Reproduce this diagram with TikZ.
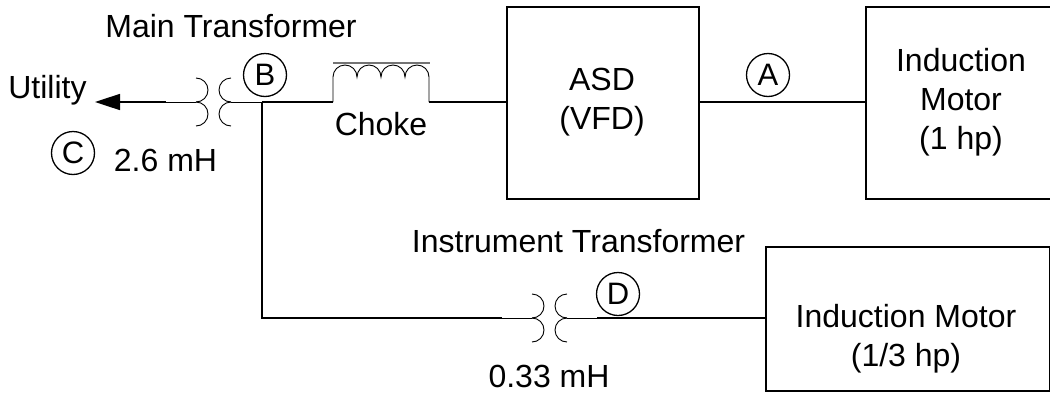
\documentclass[tikz,border=0pt]{standalone}
\usepackage{fontspec}
\usetikzlibrary{arrows.meta}
\setmainfont{Liberation Sans}
\tikzset{
 x=1pt,y=-1pt,
 lbl/.style={font=\fontsize{32}{39}\selectfont,inner sep=0pt,align=center},
 lblb/.style={font=\fontsize{32}{39}\selectfont,inner sep=0pt,anchor=base},
 boxn/.style={draw=black,line width=1.6pt,inner sep=0pt},
 tagc/.style={draw=black,circle,line width=1.3pt,minimum size=43pt,inner sep=0pt,font=\fontsize{31}{34}\selectfont},
 wire/.style={line width=1.6pt},
 thinwire/.style={line width=1pt},
 coil/.style={line width=0.9pt},
}
\begin{document}
\begin{tikzpicture}
\useasboundingbox (0,0) rectangle (1050,394);
\path[clip] (0,0) rectangle (1050,394);
% boxes
\node[boxn,minimum width=192pt,minimum height=192pt,anchor=north west] (asd) at (506,6) {};
\node[lbl] (asdt) at (602,102) {ASD\\(VFD)};
\node[boxn,minimum width=200pt,minimum height=192pt,anchor=north west] (m1) at (865,6) {};
\node[lbl] (m1t) at (961,102) {Induction\\Motor\\(1 hp)};
\node[boxn,minimum width=284pt,minimum height=144pt,anchor=north west] (m2) at (765,246) {};
\node[lbl] (m2t) at (906,338.5) {Induction Motor\\(1/3 hp)};
% tags
\node[tagc] (A) at (768,75) {A};
\node[tagc] (B) at (265,75) {B};
\node[tagc] (C) at (73,153) {C};
\node[tagc] (D) at (618,294) {D};
% labels
\node[lblb] (mt) at (231,37) {Main Transformer};
\node[lblb] (ut) at (47.5,98) {Utility};
\node[lblb] (v26) at (165.5,171) {2.6 mH};
\node[lblb] (ch) at (381,135) {Choke};
\node[lblb] (it) at (578.5,252) {Instrument Transformer};
\node[lblb] (v33) at (549,387) {0.33 mH};
% wiring
\coordinate (tl) at (196,102);
\coordinate (tr) at (231,102);
\coordinate (jn) at (262,102);
\coordinate (cl) at (333,102);
\coordinate (cr) at (429,102);
\coordinate (arr) at (95,102);
\draw[wire,-{Triangle[length=25pt,width=16pt]}] (166,102) -- (arr);
\draw[thinwire] (166,102) -- (tl);
\draw[thinwire] (tr) -- (jn);
\draw[wire] (jn) -- (cl);
\draw[wire] (cr) -- (asd.west |- cr);
\draw[wire] (asd.east |- cr) -- (m1.west |- cr);
\coordinate (il) at (532,318);
\coordinate (ir) at (567,318);
\coordinate (bl) at (502,318);
\coordinate (dr) at (597,318);
\draw[wire] (jn) -- (262,318) -- (bl);
\draw[thinwire] (bl) -- (il);
\draw[thinwire] (ir) -- (dr);
\draw[wire] (dr) -- (m2.west |- dr);
% transformers
\foreach \cx/\cy in {196/102,532/318}{
 \draw[coil] (\cx,\cy-24) arc[start angle=90,end angle=-90,radius=12pt];
 \draw[coil] (\cx,\cy) arc[start angle=90,end angle=-90,radius=12pt];
 \draw[coil] (\cx+35,\cy-24) arc[start angle=90,end angle=270,radius=12pt];
 \draw[coil] (\cx+35,\cy) arc[start angle=90,end angle=270,radius=12pt];
}
% choke
\draw[coil] (cl) -- (333,77) arc[start angle=180,end angle=0,radius=12pt]
 arc[start angle=180,end angle=0,radius=12pt]
 arc[start angle=180,end angle=0,radius=12pt]
 arc[start angle=180,end angle=0,radius=12pt] -- (cr);
\draw[line width=1.2pt,black!55] (333,63) -- (430,63);
\end{tikzpicture}
\end{document}
